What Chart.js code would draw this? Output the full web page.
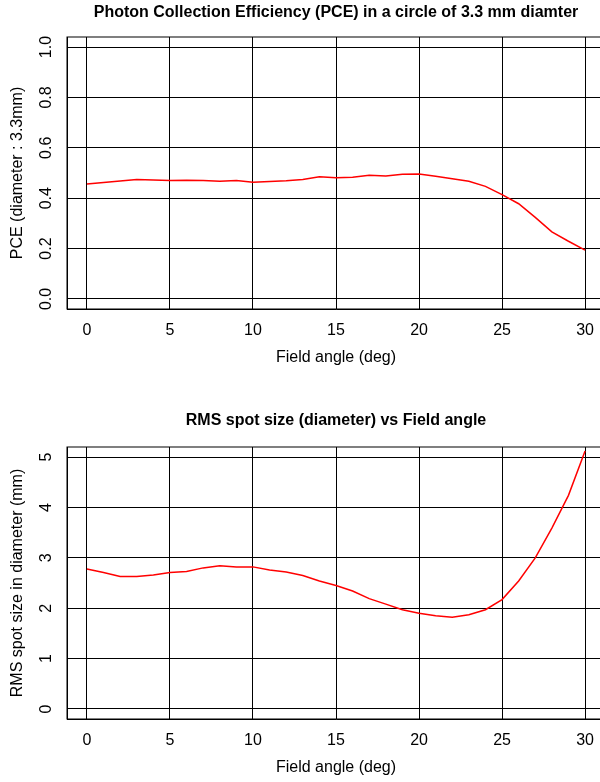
<!DOCTYPE html>
<html>
<head>
<meta charset="utf-8">
<script src="https://cdn.jsdelivr.net/npm/chart.js@4.4.0/dist/chart.umd.min.js"></script>
<style>
  html, body { margin: 0; padding: 0; width: 600px; height: 782px; overflow: hidden; background: #fff; }
  canvas { position: absolute; left: 0; }
  #pceChart { top: 0; }
  #rmsChart { top: 410px; }
</style>
</head>
<body>
<canvas id="pceChart" width="620" height="410"></canvas>
<canvas id="rmsChart" width="620" height="372"></canvas>
<script>
// field angle in deg
const angles = [0, 1, 2, 3, 4, 5, 6, 7, 8, 9, 10, 11, 12, 13, 14, 15, 16, 17, 18, 19, 20, 21, 22, 23, 24, 25, 26, 27, 28, 29, 30];

// PCE in a 3.3 mm circle
const pce = [0.456, 0.462, 0.468, 0.474, 0.472, 0.470, 0.471, 0.470, 0.467, 0.470, 0.463,
             0.466, 0.469, 0.474, 0.485, 0.481, 0.483, 0.491, 0.488, 0.495, 0.496,
             0.487, 0.477, 0.467, 0.447, 0.414, 0.378, 0.324, 0.266, 0.229, 0.194];

// RMS spot size (mm)
const rms = [2.78, 2.71, 2.63, 2.63, 2.66, 2.71, 2.73, 2.80, 2.84, 2.82, 2.82,
             2.76, 2.72, 2.65, 2.54, 2.45, 2.34, 2.19, 2.08, 1.97, 1.90,
             1.85, 1.82, 1.87, 1.97, 2.17, 2.54, 3.00, 3.59, 4.24, 5.12];

const xTicks = [0, 5, 10, 15, 20, 25, 30];
const pceTicks = [0, 0.2, 0.4, 0.6, 0.8, 1.0];
const rmsTicks = [0, 1, 2, 3, 4, 5];

const fontFam = '"Liberation Sans", Arial, sans-serif';

// draw the full plot box like R does
const boxPlugin = {
  id: 'box',
  beforeDatasetsDraw(chart) {
    const { ctx, chartArea: a } = chart;
    ctx.save();
    ctx.strokeStyle = '#000';
    ctx.lineWidth = 1;
    ctx.strokeRect(a.left, a.top, a.right - a.left, a.bottom - a.top);
    ctx.restore();
  }
};

function makeChart(id, values, yTicks, yMin, yMax, title, yTitle, fmt, yPad, titlePad, bottomPad) {
  const ctx = document.getElementById(id).getContext('2d');
  return new Chart(ctx, {
    type: 'line',
    data: {
      datasets: [{
        data: angles.map((a, i) => ({ x: a, y: values[i] })),
        borderColor: '#ff0000',
        borderWidth: 1.5,
        pointRadius: 0,
        tension: 0,
        fill: false
      }]
    },
    plugins: [boxPlugin],
    options: {
      responsive: false,
      animation: false,
      layout: { padding: { left: 0, right: 15, top: 0, bottom: bottomPad } },
      plugins: {
        legend: { display: false },
        tooltip: { enabled: false },
        title: { display: false }
      },
      scales: {
        // empty top axis, only used to centre the main title over the plot box
        top: {
          type: 'linear',
          axis: 'x',
          position: 'top',
          min: -1.2,
          max: 31.2,
          afterFit: (s) => { s.height = 37; },
          grid: { display: false },
          border: { display: false },
          ticks: { display: false },
          title: {
            display: true,
            text: title,
            color: '#000',
            font: { family: fontFam, size: 16, weight: 'bold' },
            padding: { top: titlePad, bottom: 0 }
          }
        },
        x: {
          type: 'linear',
          min: -1.2,
          max: 31.2,
          afterBuildTicks: (s) => { s.ticks = xTicks.map(v => ({ value: v })); },
          afterFit: (s) => { s.height = 60; },
          grid: { color: '#000', lineWidth: 1, drawTicks: false },
          border: { display: true, color: '#000', width: 1 },
          ticks: { color: '#000', padding: 12, maxRotation: 0, font: { family: fontFam, size: 16 } },
          title: {
            display: true,
            text: 'Field angle (deg)',
            color: '#000',
            font: { family: fontFam, size: 16 },
            padding: { top: 0, bottom: 2 }
          }
        },
        y: {
          type: 'linear',
          min: yMin,
          max: yMax,
          afterBuildTicks: (s) => { s.ticks = yTicks.map(v => ({ value: v })); },
          afterFit: (s) => { s.width = 67; },
          grid: { color: '#000', lineWidth: 1, drawTicks: false },
          border: { display: true, color: '#000', width: 1 },
          ticks: {
            color: '#000',
            padding: yPad,
            minRotation: 90,
            maxRotation: 90,
            crossAlign: 'center',
            font: { family: fontFam, size: 16 },
            callback: fmt
          },
          title: {
            display: true,
            text: yTitle,
            color: '#000',
            font: { family: fontFam, size: 16 },
            padding: { top: 7.5, bottom: 0 }
          }
        }
      }
    }
  });
}

const pceChart = makeChart('pceChart', pce, pceTicks, -0.04, 1.04,
  'Photon Collection Efficiency (PCE) in a circle of 3.3 mm diamter',
  'PCE (diameter : 3.3mm)', v => v.toFixed(1), 9.4, 2.5, 41);

const rmsChart = makeChart('rmsChart', rms, rmsTicks, -0.2, 5.2,
  'RMS spot size (diameter) vs Field angle',
  'RMS spot size in diameter (mm)', v => String(v), 16, 0.5, 3);
</script>
</body>
</html>
